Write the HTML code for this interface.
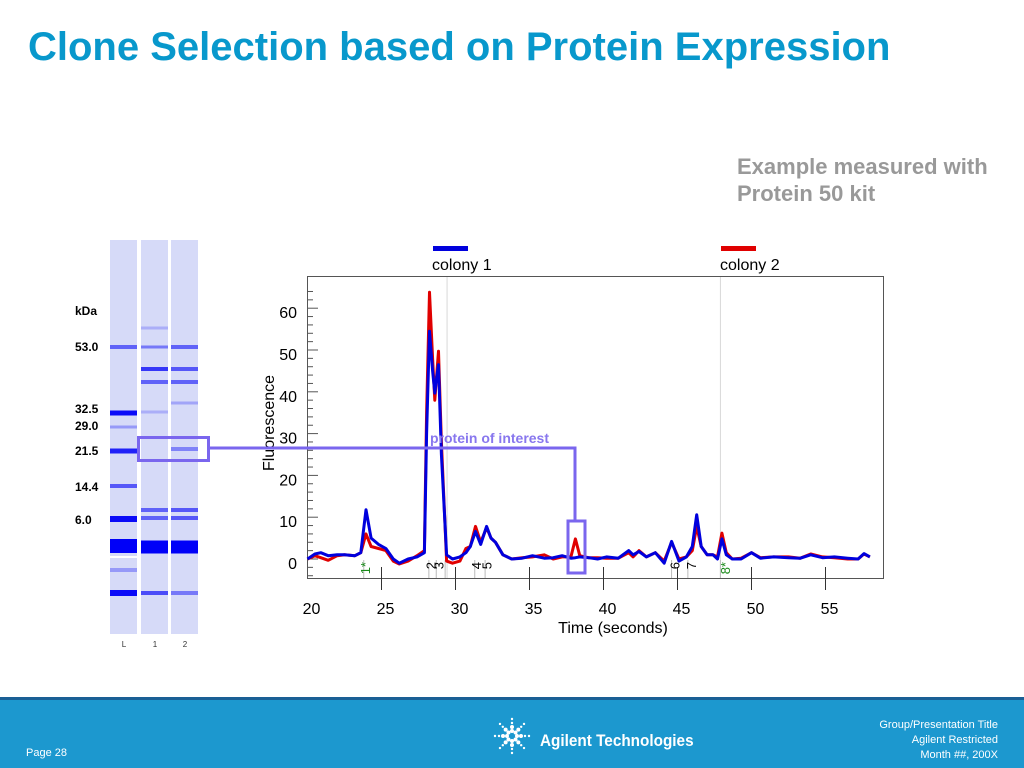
<!DOCTYPE html>
<html><head><meta charset="utf-8"><style>
body{margin:0;width:1024px;height:768px;overflow:hidden;background:#fff;font-family:"Liberation Sans",sans-serif;position:relative}
.abs{position:absolute}
#title{left:28px;top:25px;font-size:40px;font-weight:bold;color:#0898cc;white-space:nowrap}
#note{left:737px;top:153px;font-size:22px;font-weight:bold;color:#999;line-height:27px;white-space:nowrap}
.kda{position:absolute;left:75px;font-size:12px;font-weight:bold;color:#000}
#footer{left:0;top:697px;width:1024px;height:71px;background:#1c98cf;border-top:3px solid #1a5f95;box-sizing:border-box}
</style></head><body>
<div id="title" class="abs">Clone Selection based on Protein Expression</div>
<div id="note" class="abs">Example measured with<br>Protein 50 kit</div>

<svg class="abs" style="left:0;top:0" width="1024" height="697">
 <g id="gel"></g>
 <g id="chart"></g>
</svg>

<div class="kda" style="top:304px">kDa</div>
<div class="kda" style="top:340px">53.0</div>
<div class="kda" style="top:402px">32.5</div>
<div class="kda" style="top:419px">29.0</div>
<div class="kda" style="top:444px">21.5</div>
<div class="kda" style="top:480px">14.4</div>
<div class="kda" style="top:513px">6.0</div>

<div id="footer" class="abs">
 <div class="abs" style="left:26px;top:47px;font-size:11px;color:#fff">Page 28</div>
 <svg class="abs" style="left:490px;top:14px" width="44" height="44">
  <g fill="#fff" id="spark"></g>
 </svg>
 <div class="abs" style="left:540px;top:31px;font-size:17px;font-weight:bold;color:#fff;transform:scaleX(0.9);transform-origin:left">Agilent Technologies</div>
 <div class="abs" style="right:26px;top:18px;font-size:11px;color:#fff;text-align:right;line-height:15px">Group/Presentation Title<br>Agilent Restricted<br>Month ##, 200X</div>
</div>

<script>
const NS="http://www.w3.org/2000/svg";
function mk(parent,tag,attrs){const e=document.createElementNS(NS,tag);for(const k in attrs)e.setAttribute(k,attrs[k]);parent.appendChild(e);return e;}

const sp=document.getElementById('spark');
for(let a=0;a<8;a++){for(let r=5;r<=20;r+=4){const ang=a*Math.PI/4;const d=mk(sp,'circle',{cx:22+r*Math.cos(ang),cy:22+r*Math.sin(ang),r:r<10?2:1.2});

}}

const laneNames=['L','1','2'];
const laneX=[110,141,171];
const bandsL=[[347,4,0.55],[413,5,0.95],[427,3,0.3],[451,5,0.85],[486,4,0.6],[519,6,0.95],[546,14,1],[570,4,0.3],[593,6,0.95]];
const bands1=[[328,3,0.2],[347,3,0.45],[369,4,0.75],[382,4,0.55],[412,3,0.2],[510,4,0.55],[518,4,0.55],[547,13,1],[593,4,0.65]];
const bands2=[[347,4,0.55],[369,4,0.6],[382,4,0.55],[403,3,0.25],[449,4,0.4],[510,4,0.6],[518,4,0.6],[547,13,1],[593,4,0.45]];
const gel=document.getElementById('gel');
[bandsL,bands1,bands2].forEach((bands,i)=>{
 const lane=mk(gel,'rect',{x:laneX[i],y:240,width:27,height:394,fill:'#d6daf8'});
 
 
 bands.forEach(b=>{
  const r=mk(gel,'rect',{x:laneX[i],y:b[0]-b[1]/2,width:27,height:b[1],fill:'rgb('+Math.round(214-214*b[2])+','+Math.round(218-218*b[2])+',248)'});
  
  
 });
 const t=mk(gel,'text',{x:laneX[i]+14,y:647,'font-size':8,'text-anchor':'middle',fill:'#333','font-family':'Liberation Sans'});
 t.textContent=laneNames[i];
 
 
});
mk(gel,'rect',{x:110,y:556,width:27,height:2,fill:'#fff'});

const times=[20,20.5,20.9,21.4,22,22.5,23.2,23.6,23.95,24.3,24.8,25.3,25.8,26.2,26.8,27.4,27.9,28.05,28.24,28.45,28.6,28.75,28.85,29.05,29.4,29.8,30.3,30.7,31.0,31.35,31.7,32.1,32.4,32.7,33.2,33.8,34.5,35.2,36,36.6,37.2,37.8,38.1,38.4,39,39.6,40.2,41,41.7,42,42.4,42.9,43.5,44.1,44.6,45.1,45.6,46.0,46.3,46.6,47,47.4,47.7,48.0,48.3,48.7,49.3,50,50.6,51.5,52.5,53.3,54,54.8,55.6,56.5,57.2,57.6,58];
const colony1=[0,1.2,1.5,0.8,1,1,0.8,1.5,11.8,5,3.5,2.5,0,-1,0,0.5,1.5,30,54.5,45,39.7,44,46.5,25,1,0,0.5,1.5,3,6.6,3.5,7.8,5,4,1,0,0.2,0.8,0.2,0.3,0.8,0.2,0.3,0.5,0.3,0,0.5,0.2,2,1,1.8,0.5,1.5,-1,4.2,-0.5,0.5,3,10.6,3,1,1,0,4.8,1,0,0,1.5,0.2,0.5,0.3,0.2,1,0.3,0.5,0.2,0,1.3,0.5];
const colony2=[0,0.8,0.3,-0.3,0.8,1,0.8,1.5,6,3,2.5,2,-0.5,-1.2,-0.5,0.8,2,35,63.8,48,38,45,49.7,28,-0.5,-1,-0.5,2.5,3,7.8,4,7.5,5,4,1,0,0.3,0.5,1,0,0.5,0.5,4.8,0.8,0.3,0.3,0.2,0.2,1.5,0.5,2,0.5,1.5,-0.5,4,0,0.5,2,7.8,3,1,1,0.5,6.2,1.5,0,0.2,1.5,0.3,0.5,0.5,0.2,1.2,0.5,0.3,0,0,1.2,0.5];
const xTicks=[20,25,30,35,40,45,50,55];
const yTicks=[0,10,20,30,40,50,60];
const peakTimes=[23.8,28.2,28.7,29.3,31.3,32.0,44.6,45.7,47.9];
const peakLabels=['1*','2','3','4','5','6','7','8*'];
const peakLabelTimes=[23.9,28.3,28.85,31.4,32.1,44.8,45.9,48.2];

const X=t=>307.5+14.8*(t-20);
const Y=v=>559-4.18*v;
const ch=document.getElementById('chart');

const frame=mk(ch,'rect',{x:307.5,y:276.5,width:576,height:302,fill:'none',stroke:'#555','stroke-width':1});


[29.43,47.9].forEach(t=>{const l=mk(ch,'line',{x1:X(t),x2:X(t),y1:277,y2:578,stroke:'#d8d8d8'});

});
peakTimes.forEach(t=>{const l=mk(ch,'line',{x1:X(t),x2:X(t),y1:560,y2:578,stroke:'#bbb'});

});
xTicks.forEach(t=>{
 if(t>20){const l=mk(ch,'line',{x1:X(t),x2:X(t),y1:567,y2:590,stroke:'#333'});
 
 }
 const tx=mk(ch,'text',{x:X(t)+4,y:614,'font-size':16,'text-anchor':'middle',fill:'#000','font-family':'Liberation Sans'});
 tx.textContent=t;
 
 
});
for(let v=-4;v<=64;v+=2){const maj=v%10===0;
 const l=mk(ch,'line',{x1:307,x2:maj?318:313,y1:Y(v),y2:Y(v),stroke:'#555'});
 
 }
yTicks.forEach(v=>{const tx=mk(ch,'text',{x:297,y:Y(v)+10,'font-size':16,'text-anchor':'end',fill:'#000','font-family':'Liberation Sans'});
 tx.textContent=v;
 
 });
const yl=mk(ch,'text',{x:0,y:0,'font-size':16,'text-anchor':'middle',fill:'#000','font-family':'Liberation Sans',transform:'translate(274,423) rotate(-90)'});
yl.textContent='Fluorescence';


const xl=mk(ch,'text',{x:613,y:633,'font-size':16,'text-anchor':'middle',fill:'#000','font-family':'Liberation Sans'});
xl.textContent='Time (seconds)';



peakLabels.forEach((s,i)=>{const x=X(peakLabelTimes[i]);
 const tx=mk(ch,'text',{x:0,y:0,'font-size':13,'text-anchor':'end',fill:s.includes('*')?'#1a8a1a':'#000','font-family':'Liberation Sans',transform:'translate('+(x+5)+',562) rotate(-90)'});
 tx.textContent=s;
 
 });

function path(vals){return times.map((t,i)=>(i?'L':'M')+X(t).toFixed(1)+','+Y(vals[i]).toFixed(1)).join('');}
const red=mk(ch,'path',{d:path(colony2),fill:'none',stroke:'#e00000','stroke-width':3,'stroke-linejoin':'round'});


const blue=mk(ch,'path',{d:path(colony1),fill:'none',stroke:'#0000dd','stroke-width':3,'stroke-linejoin':'round'});



const lg1=mk(ch,'rect',{x:433,y:246,width:35,height:5,fill:'#0000dd'});


const lt1=mk(ch,'text',{x:432,y:270,'font-size':16,fill:'#000','font-family':'Liberation Sans'});lt1.textContent='colony 1';


const lg2=mk(ch,'rect',{x:721,y:246,width:35,height:5,fill:'#e00000'});


const lt2=mk(ch,'text',{x:720,y:270,'font-size':16,fill:'#000','font-family':'Liberation Sans'});lt2.textContent='colony 2';



const pc='#7a66ee';
const gb=mk(ch,'rect',{x:138.5,y:437.5,width:70,height:23,fill:'none',stroke:pc,'stroke-width':3});


const cn=mk(ch,'polyline',{points:'208,448 575,448 575,521',fill:'none',stroke:pc,'stroke-width':3});


const pb=mk(ch,'rect',{x:568,y:521,width:17,height:52,fill:'none',stroke:pc,'stroke-width':3});


const pt=mk(ch,'text',{x:430,y:443,'font-size':14,'font-weight':'bold',fill:'#8877ee','font-family':'Liberation Sans'});
pt.textContent='protein of interest';


</script>
</body></html>
